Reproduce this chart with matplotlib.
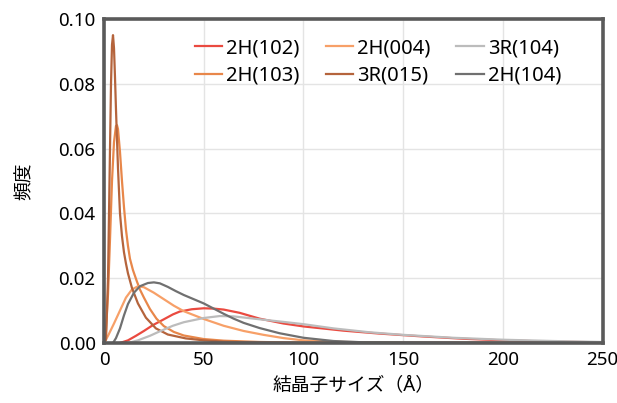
import matplotlib
matplotlib.use("Agg")
import matplotlib.pyplot as plt

plt.rcParams['font.family'] = ['Noto Sans', 'Noto Sans CJK JP', 'DejaVu Sans']

# 読み取った分布データ (結晶子サイズ Å, 頻度)
x_2h102 = [8, 12, 16, 20, 24.5, 30, 34.5, 38, 44, 50, 55, 60, 68, 78, 90, 100, 120, 138, 160, 180, 200, 225, 250]
y_2h102 = [0, 0.0008, 0.0022, 0.0037, 0.0055, 0.0073, 0.0088, 0.0097, 0.0104, 0.0107, 0.0106, 0.0103, 0.0093,
           0.0075, 0.0060, 0.0051, 0.0038, 0.0029, 0.0020, 0.0013, 0.0008, 0.0004, 0.0002]

x_2h103 = [0, 1, 2, 3, 4, 5, 6, 6.5, 7, 8, 9, 10, 11, 12, 13, 14.5, 16.3, 18, 20, 23, 26.3, 30, 35, 40, 50, 60,
           78, 100, 250]
y_2h103 = [0, 0.004, 0.015, 0.032, 0.050, 0.062, 0.067, 0.0672, 0.066, 0.059, 0.050, 0.042, 0.035, 0.030, 0.026,
           0.0225, 0.0193, 0.0165, 0.0140, 0.0105, 0.0075, 0.0052, 0.0034, 0.0023, 0.0012, 0.0007, 0.0003, 0.0001, 0]

x_2h004 = [0, 2, 5, 8, 11, 14, 17, 20, 25, 30, 35, 40, 50, 60, 70, 80, 90, 100, 120, 150, 250]
y_2h004 = [0, 0.0022, 0.0060, 0.0100, 0.0140, 0.0165, 0.0175, 0.0172, 0.0155, 0.0135, 0.0115, 0.0098, 0.0074,
           0.0053, 0.0037, 0.0025, 0.0015, 0.0008, 0.0003, 0.0001, 0]

x_3r015 = [0, 1, 2, 2.5, 3, 3.5, 4, 4.5, 5, 5.5, 6, 7, 8, 9, 10, 11, 12, 14, 17, 21, 26, 32, 41, 50, 60, 80, 120,
           250]
y_3r015 = [0, 0.001, 0.020, 0.040, 0.060, 0.080, 0.092, 0.095, 0.091, 0.082, 0.072, 0.054, 0.040, 0.033, 0.028,
           0.0245, 0.0215, 0.0170, 0.0122, 0.0078, 0.0045, 0.0026, 0.0014, 0.0008, 0.0004, 0.0001, 0, 0]

x_3r104 = [12, 17, 23, 28, 34.5, 40, 50, 58, 65, 78, 90, 100, 115, 133, 150, 175, 200, 225, 250]
y_3r104 = [0, 0.0008, 0.0022, 0.0036, 0.0053, 0.0064, 0.0077, 0.0083, 0.0082, 0.0073, 0.0065, 0.0058, 0.0045,
           0.0033, 0.0025, 0.0016, 0.0010, 0.0006, 0.0003]

x_2h104 = [4.5, 6, 8, 10, 12, 15, 18, 22, 25, 28, 32, 36, 40, 45, 50, 55, 60, 65, 70, 78, 88, 100, 115, 130, 250]
y_2h104 = [0, 0.0015, 0.0045, 0.0085, 0.0120, 0.0155, 0.0175, 0.0185, 0.0187, 0.0184, 0.0173, 0.0160, 0.0148,
           0.0135, 0.0122, 0.0106, 0.0090, 0.0075, 0.0062, 0.0046, 0.0030, 0.0016, 0.0006, 0.0002, 0]

series = [
    ("2H(102)", x_2h102, y_2h102, "#ea4a40"),
    ("2H(103)", x_2h103, y_2h103, "#e8874a"),
    ("2H(004)", x_2h004, y_2h004, "#f7a068"),
    ("3R(015)", x_3r015, y_3r015, "#b5643c"),
    ("3R(104)", x_3r104, y_3r104, "#bcbcbc"),
    ("2H(104)", x_2h104, y_2h104, "#707070"),
]

fig = plt.figure(figsize=(6.17, 4.03), dpi=100)
ax = fig.add_axes([0.1686, 0.149, 0.808, 0.804])

for name, xs, ys, c in series:
    ax.plot(xs, ys, color=c, lw=1.6, label=name)

ax.set_xlim(0, 250)
ax.set_ylim(0, 0.10)
ax.set_xticks([0, 50, 100, 150, 200, 250])
ax.set_yticks([0, 0.02, 0.04, 0.06, 0.08, 0.10])
ax.set_yticklabels(["0.00", "0.02", "0.04", "0.06", "0.08", "0.10"])
ax.grid(True, color="#e4e4e4", lw=1)
ax.set_axisbelow(True)
ax.tick_params(length=0, labelsize=13.5, pad=6)
for sp in ax.spines.values():
    sp.set_color("#5a5a5a")
    sp.set_linewidth(2.6)

ax.set_xlabel("結晶子サイズ（Å）", fontsize=13.5, labelpad=5)
ax.set_ylabel("頻度", fontsize=13.5, labelpad=18)

ax.legend(ncol=3, loc="upper left", bbox_to_anchor=(0.166, 0.965), frameon=False, fontsize=14.5,
          handlelength=1.35, handletextpad=0.2, columnspacing=1.3, labelspacing=0.38, borderaxespad=0)

fig.savefig("out.png", dpi=100)
